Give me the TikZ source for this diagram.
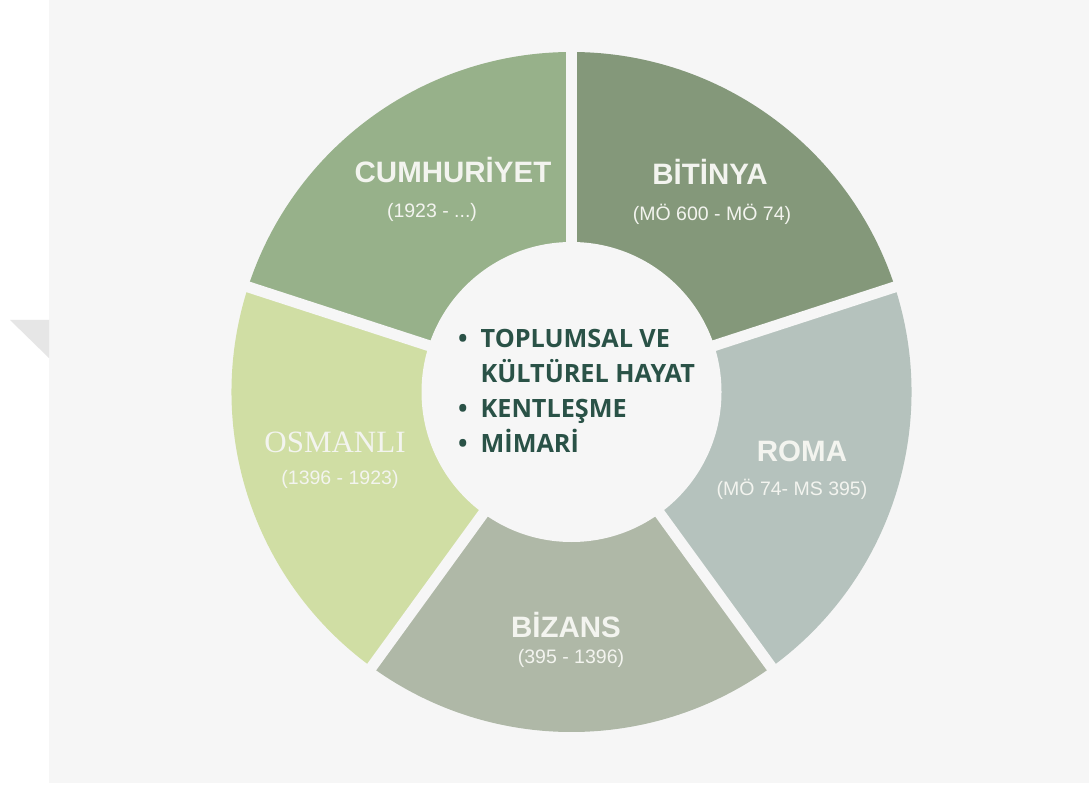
\documentclass[tikz,border=0pt]{standalone}
\usepackage{fontspec}
\setmainfont{Liberation Sans}
\newfontfamily\serifera{Liberation Serif}
\newfontfamily\listfont{Open Sans}
\usetikzlibrary{positioning}

\definecolor{bggray}{HTML}{F6F6F6}
\definecolor{shadowgray}{HTML}{E6E6E6}
\definecolor{cumhuriyetgreen}{HTML}{97B18A}
\definecolor{bitinyagreen}{HTML}{84987A}
\definecolor{romagray}{HTML}{B5C2BD}
\definecolor{bizansgray}{HTML}{AFB8A7}
\definecolor{osmanlilime}{HTML}{D0DEA4}
\definecolor{eratext}{HTML}{F3F4EF}
\definecolor{listgreen}{HTML}{2A5247}

\tikzset{
    era/.style={inner sep=0pt, text=eratext, font=\fontsize{29.5}{31}\selectfont\bfseries},
    years/.style={inner sep=0pt, text=eratext, font=\fontsize{19.5}{21}\selectfont},
    topics/.style={inner sep=0pt, text=listgreen, font=\listfont\fontsize{25.2}{35}\selectfont\bfseries},
    gap/.style={bggray, line width=11pt},
}

\begin{document}
\begin{tikzpicture}[x=1pt, y=1pt]
    \useasboundingbox (0,0) rectangle (1089,785);
    % background
    \fill[white] (0,0) rectangle (1089,785);
    \fill[bggray] (49,2) rectangle (1089,785);
    \fill[shadowgray] (10,465) -- (49,465) -- (49,427) -- cycle;

    \coordinate (c) at (571.5,393);

    % ring segments
    \fill[bitinyagreen] (c) -- ++(90:340) arc[start angle=90, end angle=18, radius=340pt] -- cycle;
    \fill[romagray] (c) -- ++(18:340) arc[start angle=18, end angle=-54, radius=340pt] -- cycle;
    \fill[bizansgray] (c) -- ++(-54:340) arc[start angle=-54, end angle=-126, radius=340pt] -- cycle;
    \fill[osmanlilime] (c) -- ++(-126:340) arc[start angle=-126, end angle=-198, radius=340pt] -- cycle;
    \fill[cumhuriyetgreen] (c) -- ++(162:340) arc[start angle=162, end angle=90, radius=340pt] -- cycle;
    \foreach \a in {90,18,-54,-126,162}
        \draw[gap] (c) -- ++(\a:350);
    \fill[bggray] (c) circle[radius=150pt];

    % eras
    \node[era, anchor=base] (cumhuriyet) at (453,602) {CUMHURİYET};
    \node[years, below=20pt of cumhuriyet, xshift=-21pt] (cumhuriyetyil) {(1923 - ...)};
    \node[era, anchor=base] (bitinya) at (710,600) {BİTİNYA};
    \node[years, below=19pt of bitinya, xshift=2pt] (bitinyayil) {(MÖ 600 - MÖ 74)};
    \node[era, anchor=base] (roma) at (802,323) {ROMA};
    \node[years, below=16pt of roma, xshift=-10pt] (romayil) {(MÖ 74- MS 395)};
    \node[era, anchor=base] (bizans) at (566,148) {BİZANS};
    \node[years, below=12pt of bizans, xshift=5pt] (bizansyil) {(395 - 1396)};
    \node[era, font=\serifera\fontsize{31}{33}\selectfont, anchor=base] (osmanli) at (335,332) {OSMANLI};
    \node[years, below=17pt of osmanli, xshift=5pt] (osmanliyil) {(1396 - 1923)};

    % topics
    \node[topics, anchor=west] (konular) at (458,391.5) {%
        \begin{tabular}{@{}l@{\hspace{13pt}}l@{}}
            \textbullet & TOPLUMSAL VE\\
                        & KÜLTÜREL HAYAT\\
            \textbullet & KENTLEŞME\\
            \textbullet & MİMARİ
        \end{tabular}};
\end{tikzpicture}
\end{document}
